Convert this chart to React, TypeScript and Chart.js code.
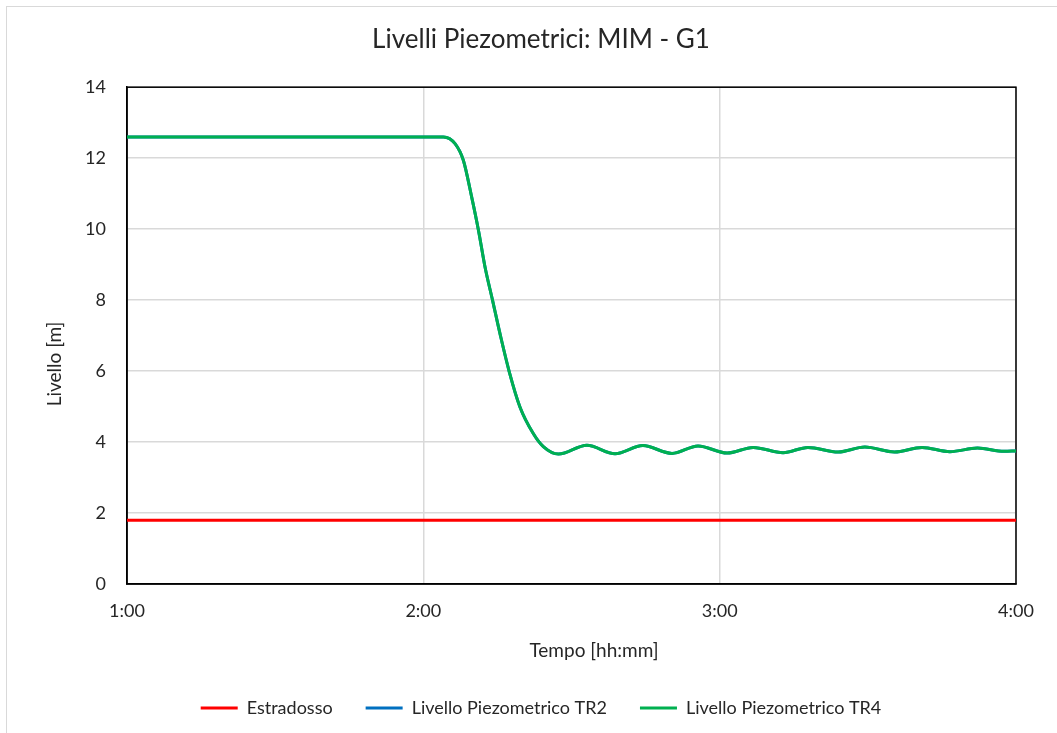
import { useEffect, useRef } from 'react';
import { Chart, registerables } from 'chart.js';

Chart.register(...registerables);

const W = 1057;
const H = 733;

// Time in hours (1 = 1:00)
const timeEstradosso = [1, 4];
const levelEstradosso = [1.8, 1.8];

const timeTR4 = [1, 2.068, 2.107, 2.135, 2.163, 2.186, 2.208, 2.234, 2.261, 2.29, 2.326, 2.371, 2.405, 2.456, 2.552, 2.647, 2.741, 2.839, 2.927, 3.025, 3.113, 3.214, 3.298, 3.4, 3.49, 3.59, 3.683, 3.777, 3.87, 3.96, 4.0];
const levelTR4 = [12.6, 12.6, 12.41, 11.94, 10.91, 9.97, 8.94, 7.98, 6.97, 5.98, 4.99, 4.24, 3.87, 3.66, 3.91, 3.67, 3.9, 3.68, 3.89, 3.69, 3.85, 3.7, 3.85, 3.72, 3.86, 3.72, 3.85, 3.73, 3.83, 3.74, 3.75];

// TR2 lies beneath TR4 (not visible in the reference)
const timeTR2 = [...timeTR4];
const levelTR2 = [...levelTR4];

const xTickValues = [1, 2, 3, 4];
const xTickLabels = ['1:00', '2:00', '3:00', '4:00'];

const chartTitle = 'Livelli Piezometrici: MIM - G1';
const xTitle = 'Tempo [hh:mm]';
const yTitle = 'Livello [m]';

const FONT = 'Lato';
const TEXT = '#262626';

const toPts = (xs: number[], ys: number[]) => xs.map((x, i) => ({ x, y: ys[i] }));

const framePlugin = {
  id: 'frame',
  beforeDatasetsDraw(chart: any) {
    const { ctx, chartArea } = chart;
    const { left, top, right, bottom } = chartArea;
    ctx.save();
    ctx.strokeStyle = '#000';
    ctx.lineWidth = 1.5;
    ctx.strokeRect(left, top, right - left, bottom - top);
    ctx.restore();
  },
};

const axisTitlePlugin = {
  id: 'axisTitles',
  afterDraw(chart: any) {
    const { ctx } = chart;
    ctx.save();
    ctx.fillStyle = TEXT;
    ctx.font = `19px ${FONT}`;
    ctx.textAlign = 'center';
    ctx.textBaseline = 'middle';
    ctx.fillText(xTitle, 594, 651);
    ctx.translate(55, 364);
    ctx.rotate(-Math.PI / 2);
    ctx.fillText(yTitle, 0, 0);
    ctx.restore();
  },
};

const legendFixPlugin = {
  id: 'legendFix',
  afterInit(chart: any) {
    const lg = chart.legend;
    if (!lg) return;
    const orig = lg.fit.bind(lg);
    lg.fit = () => {
      orig();
      lg.height = 67;
    };
  },
};

export default function App() {
  const ref = useRef<HTMLCanvasElement>(null);

  useEffect(() => {
    document.body.style.margin = '0';
    const chart = new Chart(ref.current!, {
      type: 'line',
      data: {
        datasets: [
          {
            label: 'Estradosso',
            data: toPts(timeEstradosso, levelEstradosso),
            borderColor: '#FF0000',
            backgroundColor: '#FF0000',
            borderWidth: 3,
            pointRadius: 0,
            order: 2,
          },
          {
            label: 'Livello Piezometrico TR2',
            data: toPts(timeTR2, levelTR2),
            borderColor: '#0070C0',
            backgroundColor: '#0070C0',
            borderWidth: 3,
            pointRadius: 0,
            cubicInterpolationMode: 'monotone',
            order: 1,
          },
          {
            label: 'Livello Piezometrico TR4',
            data: toPts(timeTR4, levelTR4),
            borderColor: '#00B050',
            backgroundColor: '#00B050',
            borderWidth: 3,
            pointRadius: 0,
            cubicInterpolationMode: 'monotone',
            order: 0,
          },
        ],
      },
      options: {
        responsive: false,
        animation: false,
        layout: { padding: { left: 25, right: 0, top: 0, bottom: 0 } },
        scales: {
          x: {
            type: 'linear',
            min: 1,
            max: 4,
            afterBuildTicks(scale: any) {
              scale.ticks = xTickValues.map((v) => ({ value: v }));
            },
            afterFit(scale: any) {
              scale.height = 82;
            },
            ticks: {
              padding: 16,
              color: TEXT,
              font: { family: FONT, size: 18 },
              maxRotation: 0,
              callback: (v: any) => {
                const i = xTickValues.indexOf(Number(v));
                return i >= 0 ? xTickLabels[i] : '';
              },
            },
            grid: { color: '#d9d9d9', lineWidth: 1.5, drawTicks: false },
            border: { color: '#000', width: 1.5 },
          },
          y: {
            min: 0,
            max: 14,
            afterFit(scale: any) {
              scale.width = 102;
            },
            ticks: {
              stepSize: 2,
              padding: 21,
              color: TEXT,
              font: { family: FONT, size: 18 },
            },
            grid: { color: '#d9d9d9', lineWidth: 1.5, drawTicks: false },
            border: { color: '#000', width: 1.5 },
          },
          yRight: {
            position: 'right',
            min: 0,
            max: 14,
            afterFit(scale: any) {
              scale.width = 41;
            },
            ticks: { display: false },
            grid: { display: false, drawTicks: false },
            border: { display: false },
          },
        },
        plugins: {
          title: {
            display: true,
            text: chartTitle,
            color: TEXT,
            font: { family: FONT, size: 26, weight: 'normal' },
            padding: { top: 24, bottom: 32 },
          },
          legend: {
            position: 'bottom',
            labels: {
              boxWidth: 37,
              boxHeight: 3,
              padding: 33,
              color: TEXT,
              font: { family: FONT, size: 18 },
              sort: (a: any, b: any) => a.datasetIndex - b.datasetIndex,
              generateLabels: (chart: any) => {
                const items = Chart.defaults.plugins.legend.labels.generateLabels(chart);
                return items.map((it: any) => ({ ...it, lineWidth: 0 }));
              },
            },
          },
          tooltip: { enabled: false },
        },
      },
      plugins: [framePlugin, axisTitlePlugin, legendFixPlugin],
    } as any);
    return () => chart.destroy();
  }, []);

  return (
    <div style={{ position: 'absolute', left: 0, top: 0, width: W, height: H, background: '#fff', overflow: 'hidden' }}>
      <div
        style={{
          position: 'absolute',
          left: 6,
          top: 6,
          width: W,
          height: H,
          borderLeft: '1px solid #d9d9d9',
          borderTop: '1px solid #d9d9d9',
        }}
      />
      <canvas ref={ref} width={W} height={H} style={{ position: 'absolute', left: 0, top: 0 }} />
    </div>
  );
}
